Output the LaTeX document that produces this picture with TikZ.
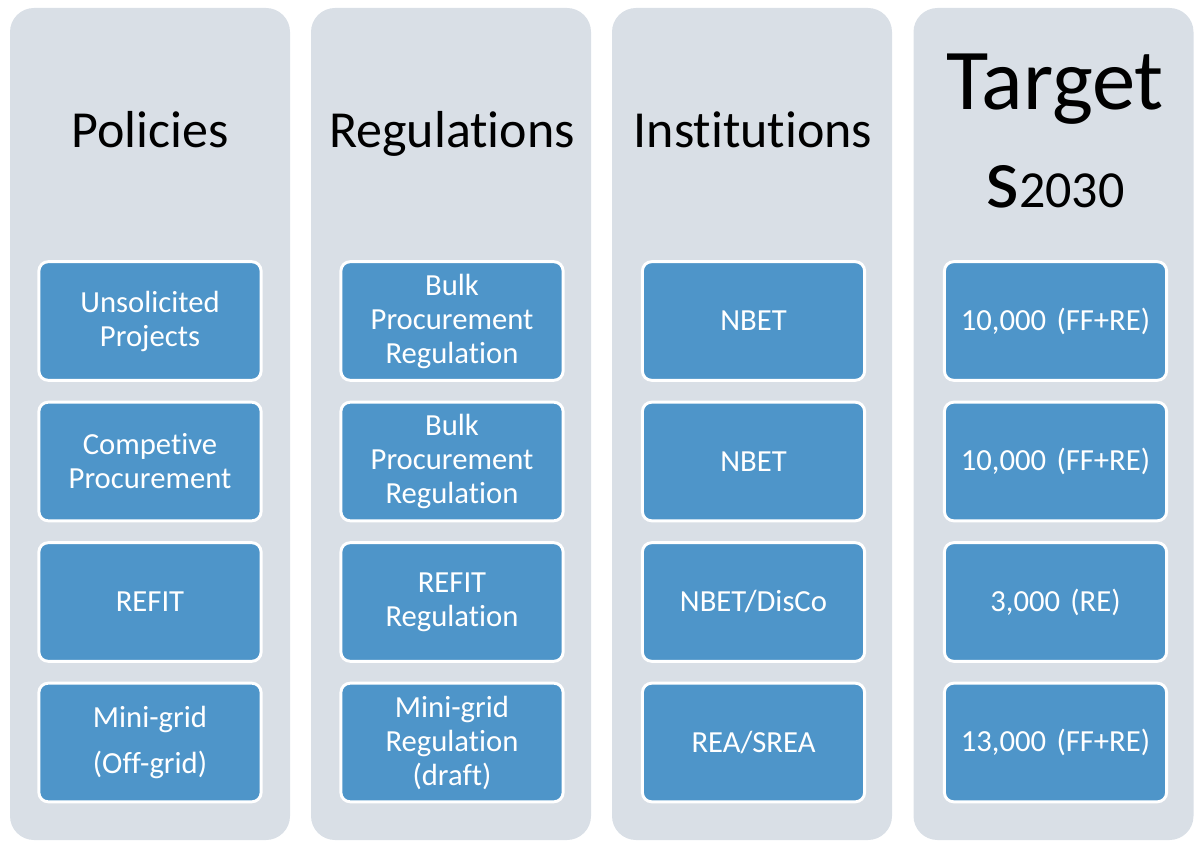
\documentclass[tikz,border=0pt]{standalone}
\usepackage{fontspec}
\setmainfont{Carlito}[RawFeature={-liga;-clig;-calt}]
\definecolor{panelgray}{HTML}{D9DFE6}
\definecolor{cellblue}{HTML}{4E95C9}
\begin{document}
\begin{tikzpicture}[x=0.75pt,y=-0.75pt,
    panel/.style={fill=panelgray,rounded corners=18pt,inner sep=0pt,
        minimum width=210pt,minimum height=624pt},
    cell/.style={fill=cellblue,draw=white,line width=2.2pt,rounded corners=7pt,
        minimum width=166pt,minimum height=89pt,text width=160pt,align=center,
        text=white,font=\fontsize{23}{25.5}\selectfont},
    head/.style={anchor=base,font=\fontsize{39}{46}\selectfont}]
\useasboundingbox (0,0) rectangle (1198,841);
% panels
\foreach \x/\n in {150/pol,451/reg,752/ins,1053.5/tar}
    \node[panel] (\n) at (\x,424) {};
% headings
\node[head] (polhead) at (150,148) {Policies};
\node[head] (reghead) at (452,148) {Regulations};
\node[head] (inshead) at (753,148) {Institutions};
\node[anchor=base,font=\fontsize{65}{70}\selectfont] (tarhead) at (1055,110) {Target};
\node[anchor=base,font=\fontsize{65}{70}\selectfont] (tarsub) at (1055,208)
    {s\fontsize{39}{46}\selectfont2030};
% cells
\foreach \t [count=\i] in {{Unsolicited\\Projects},{Competive\\Procurement},REFIT,
        {Mini-grid\\[9pt](Off-grid)}}
    \node[cell] (pol\i) at (150,180.5+140.5*\i) {\t};
\foreach \t [count=\i] in {{Bulk\\Procurement\\Regulation},{Bulk\\Procurement\\Regulation},
        {REFIT\\Regulation},{Mini-grid\\Regulation\\(draft)}}
    \node[cell] (reg\i) at (452,180.5+140.5*\i) {\t};
\foreach \t [count=\i] in {NBET,NBET,NBET/DisCo,REA/SREA}
    \node[cell] (ins\i) at (753.5,180.5+140.5*\i) {\t};
\foreach \t [count=\i] in {{10,000 (FF+RE)},{10,000 (FF+RE)},{3,000 (RE)},{13,000 (FF+RE)}}
    \node[cell] (tar\i) at (1055.5,180.5+140.5*\i) {\t};
\end{tikzpicture}
\end{document}
